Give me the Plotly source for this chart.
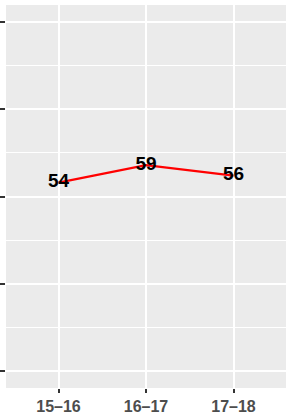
import plotly.graph_objects as go

seasons = ["15–16", "16–17", "17–18"]
values = [54, 59, 56]
y_ticks = [0, 25, 50, 75, 100]

x_pos = list(range(1, len(seasons) + 1))

fig = go.Figure()
fig.add_trace(go.Scatter(
    x=x_pos, y=values, mode="lines+text",
    line=dict(color="red", width=2.2),
    text=[str(v) for v in values], textposition="middle center",
    textfont=dict(family="Liberation Sans", size=19, color="black", weight="bold"),
    showlegend=False, hoverinfo="skip", cliponaxis=False,
))

fig.update_layout(
    width=286, height=417,
    margin=dict(l=6, r=0, t=5, b=29, autoexpand=False),
    paper_bgcolor="white", plot_bgcolor="#EBEBEB",
    font=dict(family="Liberation Sans"),
)
fig.update_xaxes(
    range=[0.4, 3.6], tickvals=x_pos, ticktext=seasons,
    showgrid=True, gridcolor="white", gridwidth=2,
    ticks="outside", ticklen=4, tickwidth=1.5, tickcolor="#333333",
    tickfont=dict(size=16, color="#4D4D4D", weight="bold"),
    zeroline=False, showline=False, fixedrange=True, automargin=False,
)
fig.update_yaxes(
    range=[-5, 105], tickvals=y_ticks, showticklabels=False,
    showgrid=True, gridcolor="white", gridwidth=2,
    minor=dict(dtick=12.5, tick0=0, showgrid=True, gridcolor="white", gridwidth=1, ticks=""),
    ticks="outside", ticklen=5, tickwidth=1.5, tickcolor="#333333",
    zeroline=False, showline=False, fixedrange=True, automargin=False,
)

fig.write_html(
    "out.html",
    config={"displayModeBar": False},
    post_script="document.body.style.margin='0';document.body.style.overflow='hidden';",
)
